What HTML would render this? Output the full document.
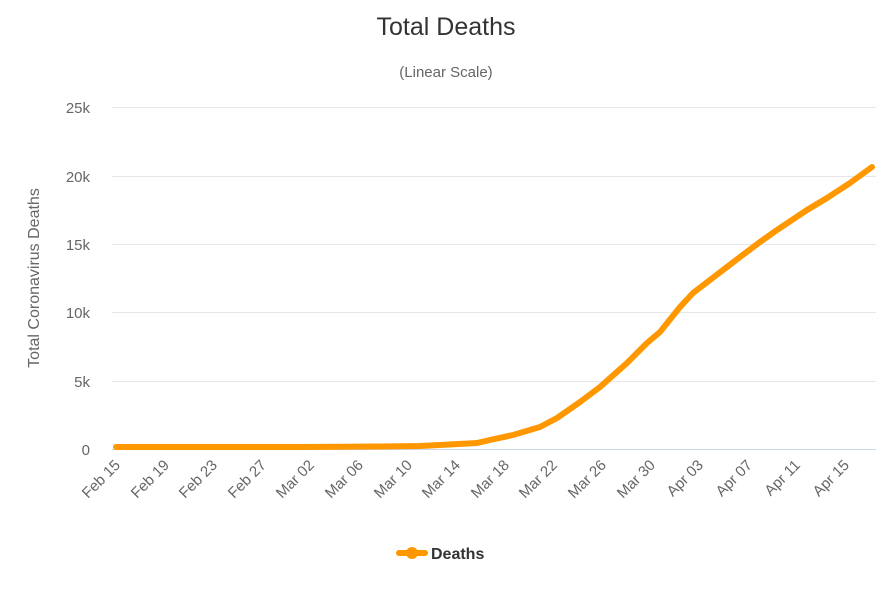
<!DOCTYPE html>
<html><head><meta charset="utf-8"><style>
body{margin:0;background:#fff;width:892px;height:600px;overflow:hidden;font-family:"Liberation Sans",sans-serif;}
</style></head><body>
<svg width="892" height="600" xmlns="http://www.w3.org/2000/svg" font-family="Liberation Sans, sans-serif">
<text x="446" y="35" text-anchor="middle" font-size="25" fill="#333">Total Deaths</text>
<text x="446" y="77" text-anchor="middle" font-size="15" fill="#666">(Linear Scale)</text>
<g stroke="#e6e6e6" stroke-width="1">
<line x1="112" x2="876" y1="107.5" y2="107.5"/>
<line x1="112" x2="876" y1="176.5" y2="176.5"/>
<line x1="112" x2="876" y1="244.5" y2="244.5"/>
<line x1="112" x2="876" y1="312.5" y2="312.5"/>
<line x1="112" x2="876" y1="381.5" y2="381.5"/>
</g>
<line x1="112" x2="876" y1="449.5" y2="449.5" stroke="#ccd6eb" stroke-width="1"/>
<g font-size="15" fill="#666" text-anchor="end">
<text x="90" y="113">25k</text>
<text x="90" y="182">20k</text>
<text x="90" y="250">15k</text>
<text x="90" y="318">10k</text>
<text x="90" y="387">5k</text>
<text x="90" y="455">0</text>
</g>
<text transform="translate(39,278) rotate(-90)" text-anchor="middle" font-size="16" fill="#666">Total Coronavirus Deaths</text>
<g font-size="15" fill="#666" text-anchor="end">
<text transform="translate(121,466) rotate(-45)">Feb 15</text>
<text transform="translate(170,466) rotate(-45)">Feb 19</text>
<text transform="translate(218,466) rotate(-45)">Feb 23</text>
<text transform="translate(267,466) rotate(-45)">Feb 27</text>
<text transform="translate(315,466) rotate(-45)">Mar 02</text>
<text transform="translate(364,466) rotate(-45)">Mar 06</text>
<text transform="translate(413,466) rotate(-45)">Mar 10</text>
<text transform="translate(461,466) rotate(-45)">Mar 14</text>
<text transform="translate(510,466) rotate(-45)">Mar 18</text>
<text transform="translate(558,466) rotate(-45)">Mar 22</text>
<text transform="translate(607,466) rotate(-45)">Mar 26</text>
<text transform="translate(656,466) rotate(-45)">Mar 30</text>
<text transform="translate(704,466) rotate(-45)">Apr 03</text>
<text transform="translate(753,466) rotate(-45)">Apr 07</text>
<text transform="translate(801,466) rotate(-45)">Apr 11</text>
<text transform="translate(850,466) rotate(-45)">Apr 15</text>
</g>
<polyline fill="none" stroke="#ff9800" stroke-width="6" stroke-linejoin="round" stroke-linecap="round"
points="116,447 300,447 380,446.5 420,446 440,445 477,443 490,440 513,435 540,427 557,418 580,402 600,387 627,363 647,343 660,332 680,307 693,293 740,257 760,242 777,230 807,210 827,198 850,183 872,167"/>
<line x1="399" x2="425" y1="553" y2="553" stroke="#ff9800" stroke-width="6" stroke-linecap="round"/>
<circle cx="412" cy="553" r="6" fill="#ff9800"/>
<text x="431" y="559" font-size="16" font-weight="bold" fill="#333">Deaths</text>
</svg>
</body></html>
